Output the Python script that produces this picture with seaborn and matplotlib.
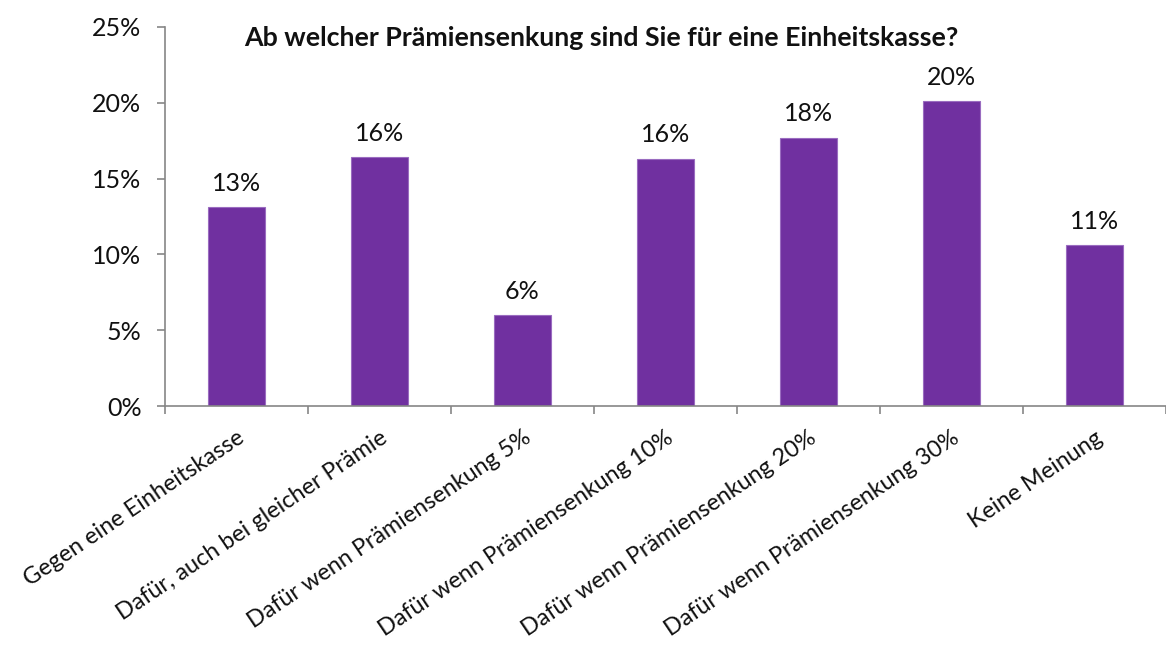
import matplotlib
matplotlib.use("Agg")
import matplotlib.pyplot as plt
import seaborn as sns
import pandas as pd
import numpy as np

categories = [
    "Gegen eine Einheitskasse",
    "Dafür, auch bei gleicher Prämie",
    "Dafür wenn Prämiensenkung 5%",
    "Dafür wenn Prämiensenkung 10%",
    "Dafür wenn Prämiensenkung 20%",
    "Dafür wenn Prämiensenkung 30%",
    "Keine Meinung",
]
shares = [13.1, 16.4, 6.0, 16.3, 17.7, 20.1, 10.6]
y_ticks = [0, 5, 10, 15, 20, 25]
title = "Ab welcher Prämiensenkung sind Sie für eine Einheitskasse?"

sns.set_theme(style="white")
plt.rcParams["font.family"] = ["Lato", "DejaVu Sans"]

df = pd.DataFrame({"Antwort": categories, "Anteil": shares})

fig = plt.figure(figsize=(11.66, 6.53), dpi=100)
ax = fig.add_axes([0.1415, 0.378, 0.8585, 0.5808])

sns.barplot(data=df, x="Antwort", y="Anteil", color="#7030A0", width=0.4,
            saturation=1, ax=ax, edgecolor="#9a6cc0", linewidth=0.8)

ax.set_ylim(0, 25)
ax.set_xlim(-0.5, 6.427)
ax.set_xlabel("")
ax.set_ylabel("")

label_size = 18
text_color = "#111111"

# y axis
ax.set_yticks(y_ticks)
ax.set_yticklabels([f"{t}%" for t in y_ticks], fontsize=label_size, color=text_color)
ax.tick_params(axis="y", direction="out", length=6, width=1.2, color="#868686",
               left=True, pad=11)

# x axis: tick marks at category boundaries, labels at category centres
n = len(categories)
ax.set_xticks(np.arange(n + 1) - 0.5)
ax.set_xticklabels([])
ax.set_xticks(np.arange(n), minor=True)
ax.set_xticklabels(categories, minor=True, fontsize=16.8, color=text_color,
                   rotation=34, ha="right", rotation_mode="anchor")
ax.tick_params(axis="x", which="major", direction="out", length=6, width=1.2,
               color="#868686", bottom=True)
ax.tick_params(axis="x", which="minor", length=0, pad=15)

for side in ["top", "right"]:
    ax.spines[side].set_visible(False)
for side in ["left", "bottom"]:
    ax.spines[side].set_color("#868686")
    ax.spines[side].set_linewidth(1.2)
ax.grid(False)

# value labels above bars
for i, v in enumerate(shares):
    ax.annotate(f"{v:.0f}%", (i, v), xytext=(0, 9), textcoords="offset points",
                ha="center", va="bottom", fontsize=label_size, color=text_color)

fig.text(0.516, 0.942, title, ha="center", va="center", fontsize=19.3,
         fontweight="bold", color=text_color)

fig.savefig("out.png", dpi=100)
